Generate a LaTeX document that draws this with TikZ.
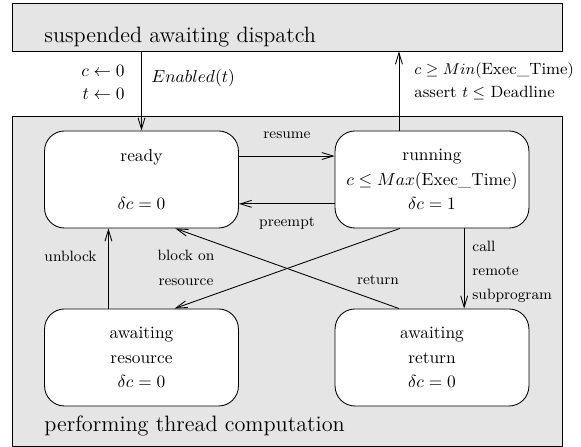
\documentclass[tikz,border=0pt]{standalone}
\usepackage{amsmath}
\usepackage{tikz}
\usetikzlibrary{arrows.meta}

\begin{document}
\begin{tikzpicture}[x=0.575pt, y=-0.575pt,
                        >={Straight Barb[length=6.5pt,width=4pt]},
                        every path/.style={line width=0.5pt},
                        phase box/.style={rectangle, draw, fill=gray!20, minimum width=316.25pt},
                        state node/.style={rectangle, rounded corners=11.5pt, draw, fill=white,
                                           minimum width=111.5pt, minimum height=55.8pt,
                                           align=center, font=\fontsize{10}{14}\selectfont},
                        phase label/.style={anchor=base west, inner sep=0pt, font=\fontsize{12.8}{15}\selectfont},
                        edge label/.style={inner sep=0pt, align=left, font=\fontsize{8.6}{14}\selectfont},
                        guard label/.style={inner sep=0pt, font=\fontsize{10}{13.2}\selectfont}]

        \useasboundingbox (0,0) rectangle (581,447);

        \node[phase box, minimum height=27.6pt] (dispatch) at (287,27) {};
        \node[phase box, minimum height=189.75pt] (perform) at (287,281) {};
        \node[phase label] (dispatchtext) at (44,43) {suspended awaiting dispatch};
        \node[phase label] (performtext) at (44,432) {performing thread computation};

        \node[state node] (ready) at (141.5,179.5) {ready\\[13.6pt]$\delta c = 0$};
        \node[state node] (running) at (432,179.5) {running\\$c \leq Max(\text{Exec\_Time})$\\$\delta c = 1$};
        \node[state node] (waitres) at (141.5,357.5) {awaiting\\resource\\$\delta c = 0$};
        \node[state node] (waitret) at (432,357.5) {awaiting\\return\\$\delta c = 0$};

        \coordinate (exit) at ([xshift=-19pt]running.north);

        \draw[->] (dispatch.south -| ready.north) -- (ready.north);
        \draw[->] (exit) -- (exit |- dispatch.south);
        \draw[->] ([yshift=13.5pt]ready.east) -- ([yshift=13.5pt]running.west);
        \draw[->] ([yshift=-14pt]running.west) -- ([yshift=-14pt]ready.east);
        \draw[->] ([xshift=-19pt]waitres.north) -- ([xshift=-19pt]ready.south);
        \draw[->] ([xshift=-18.5pt]running.south) -- ([xshift=19pt]waitres.north);
        \draw[->] ([xshift=-19pt]waitret.north) -- ([xshift=19.5pt]ready.south);
        \draw[->] ([xshift=18.5pt]running.south) -- ([xshift=18.5pt]waitret.north);

        \node[guard label, anchor=east, align=right] (reset) at (125,82.5) {$c \leftarrow 0$\\$t \leftarrow 0$};
        \node[guard label, anchor=west] (enabled) at (151,78) {$Enabled(t)$};
        \node[guard label, anchor=west, align=left, font=\fontsize{9.4}{13.2}\selectfont] (complete) at (414,81)
            {$c \geq Min(\text{Exec\_Time})$\\assert $t \leq$ Deadline};

        \node[edge label] (resumelabel) at (287,135) {resume};
        \node[edge label] (preemptlabel) at (287,223) {preempt};
        \node[edge label, anchor=east] (unblocklabel) at (97,256) {unblock};
        \node[edge label, align=center] (blocklabel) at (186,268) {block on\\resource};
        \node[edge label] (returnlabel) at (378,280) {return};
        \node[edge label, anchor=west] (calllabel) at (472,272) {call\\remote\\subprogram};
    \end{tikzpicture}
\end{document}
